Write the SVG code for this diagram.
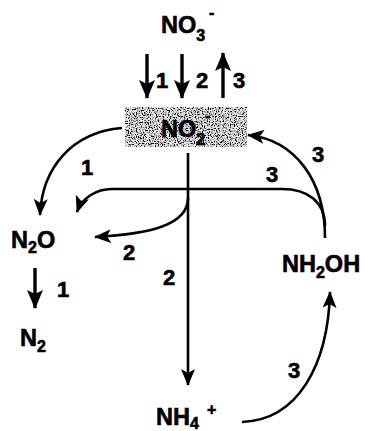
<svg xmlns="http://www.w3.org/2000/svg" width="365" height="431" viewBox="0 0 365 431">
<defs>
<style>
text{font-family:"Liberation Sans",Arial,sans-serif;font-weight:bold;fill:#000;stroke:#000;stroke-width:0.6}
.sp{font-size:23.5px}
.lb{font-size:22px}
.sub{font-size:16px}
.c{fill:none;stroke:#000;stroke-width:2.6}
.t{fill:none;stroke:#000;stroke-width:3.4}
</style>
<marker id="ah" markerUnits="userSpaceOnUse" markerWidth="17" markerHeight="14" viewBox="0 0 17 14" refX="16" refY="7" orient="auto">
<path d="M0,0 L17,7 L0,14 L4,7 Z" fill="#000"/>
</marker>
<marker id="ahb" markerUnits="userSpaceOnUse" markerWidth="19" markerHeight="16" viewBox="0 0 19 16" refX="18" refY="8" orient="auto">
<path d="M0,0 L19,8 L0,16 L4,8 Z" fill="#000"/>
</marker>
<filter id="noise" x="0" y="0" width="100%" height="100%">
<feTurbulence type="fractalNoise" baseFrequency="0.85" numOctaves="2" seed="7" result="n"/>
<feColorMatrix in="n" type="matrix" values="0 0 0 0 0  0 0 0 0 0  0 0 0 0 0  0 0 0 -4.5 2.55" result="d"/>
<feFlood flood-color="#ececec" result="bg"/>
<feComposite in="d" in2="bg" operator="over" result="m"/>
<feComposite in="m" in2="SourceGraphic" operator="in"/>
</filter>
</defs>

<g id="no2-box">
<rect x="125" y="107" width="122" height="40" fill="#ccc" filter="url(#noise)"/>
</g>

<g id="connectors">
<path class="t" d="M147,54 L147,98" marker-end="url(#ahb)"/>
<path class="t" d="M182,54 L182,98" marker-end="url(#ahb)"/>
<path class="t" d="M223,98 L223,53" marker-end="url(#ahb)"/>
<path class="c" d="M188,153 L188,385" marker-end="url(#ah)"/>
<path class="c" d="M325,226 C325,202 308,189 282,189 L112,189 C96,189 82,198 77,212" marker-end="url(#ah)"/>
<path class="c" d="M188,198 C188,225 150,234 95,237" marker-end="url(#ah)"/>
<path class="c" d="M122,128 C72,132 42,168 40,215" marker-end="url(#ah)"/>
<path class="c" d="M325,238 C325,180 295,140 248,135" marker-end="url(#ah)"/>
<path class="c" d="M242,422 C298,420 328,365 330,292" marker-end="url(#ah)"/>
<path class="t" d="M35,268 L35,308" marker-end="url(#ahb)"/>
</g>

<g id="no3">
<text class="sp" x="161" y="33">NO<tspan class="sub" dy="8">3</tspan><tspan class="sub" x="209" y="18">-</tspan></text>
</g>
<g id="no2">
<text class="sp" x="161" y="137">NO<tspan class="sub" dy="8">2</tspan><tspan class="sub" x="205" y="121">-</tspan></text>
</g>
<g id="n2o">
<text class="sp" x="11" y="248">N<tspan class="sub" dy="5">2</tspan><tspan dy="-5">O</tspan></text>
</g>
<g id="n2">
<text class="sp" x="20" y="346">N<tspan class="sub" dy="6">2</tspan></text>
</g>
<g id="nh2oh">
<text class="sp" x="282" y="272">NH<tspan class="sub" dy="6">2</tspan><tspan dy="-6">OH</tspan></text>
</g>
<g id="nh4">
<text class="sp" x="156" y="425">NH<tspan class="sub" dy="4">4</tspan><tspan class="sub" x="207" y="415">+</tspan></text>
</g>

<g id="labels">
<text class="lb" x="156" y="88">1</text>
<text class="lb" x="196" y="88">2</text>
<text class="lb" x="233" y="88">3</text>
<text class="lb" x="81" y="175">1</text>
<text class="lb" x="266" y="182">3</text>
<text class="lb" x="312" y="162">3</text>
<text class="lb" x="123" y="260">2</text>
<text class="lb" x="163" y="285">2</text>
<text class="lb" x="57" y="297">1</text>
<text class="lb" x="288" y="378">3</text>
</g>
</svg>
